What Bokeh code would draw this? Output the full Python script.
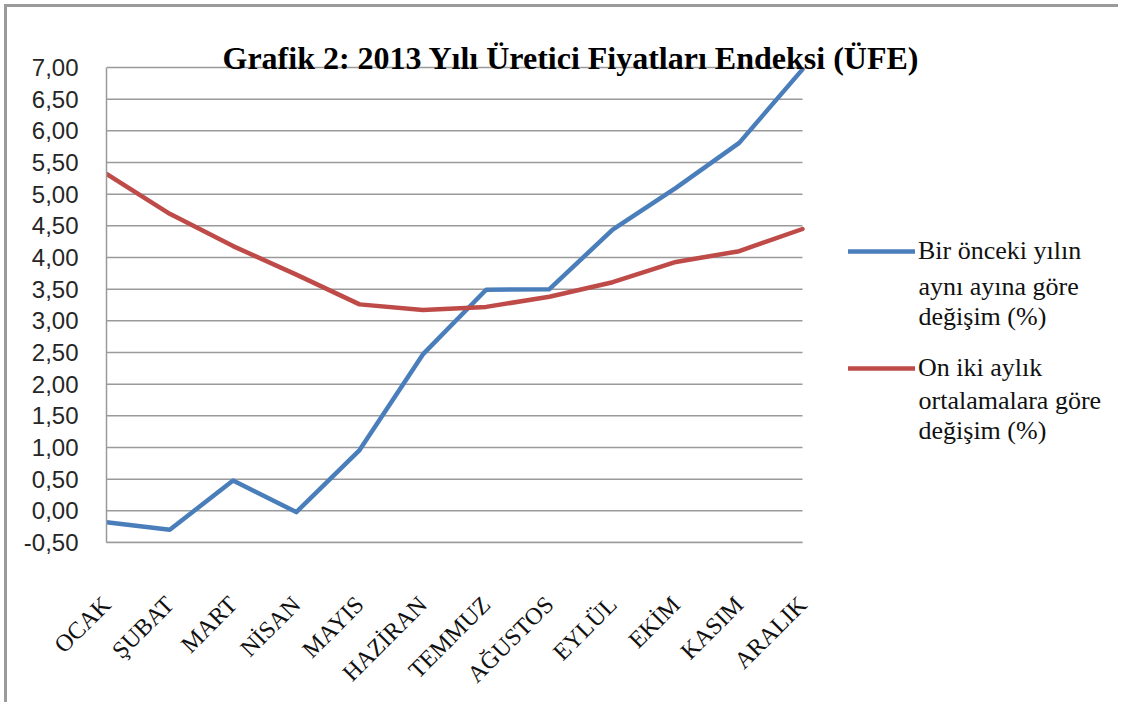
import math
from bokeh.plotting import figure
from bokeh.models import Range1d, FixedTicker, Legend, LegendItem, Label
from bokeh.embed import file_html
from bokeh.resources import INLINE

# ---- data ----
months = ["OCAK", "ŞUBAT", "MART", "NİSAN", "MAYIS", "HAZİRAN",
          "TEMMUZ", "AĞUSTOS", "EYLÜL", "EKİM", "KASIM", "ARALIK"]
annual_change = [-0.18, -0.30, 0.48, -0.02, 0.96, 2.47, 3.49, 3.50, 4.44, 5.10, 5.81, 6.97]
avg12_change = [5.32, 4.69, 4.18, 3.73, 3.26, 3.17, 3.22, 3.38, 3.61, 3.93, 4.10, 4.45]
y_ticks = [-0.5, 0.0, 0.5, 1.0, 1.5, 2.0, 2.5, 3.0, 3.5, 4.0, 4.5, 5.0, 5.5, 6.0, 6.5, 7.0]
y_tick_labels = ["-0,50", "0,00", "0,50", "1,00", "1,50", "2,00", "2,50", "3,00",
                 "3,50", "4,00", "4,50", "5,00", "5,50", "6,00", "6,50", "7,00"]
series_names = [["Bir önceki yılın", "aynı ayına göre", "değişim (%)"],
                ["On iki aylık", "ortalamalara göre", "değişim (%)"]]
title_text = "Grafik 2: 2013 Yılı Üretici  Fiyatları Endeksi (ÜFE)"

x_pos = list(range(len(months)))

# ---- layout (pixels) ----
W, H = 1114, 698
B_LEFT, B_TOP, B_RIGHT, B_BOTTOM = 99, 20, 2, 163
PLOT_TOP = 60          # canvas y of the 7,00 line
frame_w = W - B_LEFT - B_RIGHT
frame_h = H - B_TOP - B_BOTTOM
plot_w = 696           # width used by the 12 months
plot_h = H - B_BOTTOM - PLOT_TOP
x_end = (len(months) - 1) * frame_w / plot_w
y_span = y_ticks[-1] - y_ticks[0]
y_end = y_ticks[0] + y_span * frame_h / plot_h

p = figure(width=W, height=H, output_backend="svg", toolbar_location=None,
           x_range=Range1d(0, x_end), y_range=Range1d(y_ticks[0], y_end),
           min_border_left=B_LEFT, min_border_right=B_RIGHT,
           min_border_top=B_TOP, min_border_bottom=B_BOTTOM)
p.styles = {"margin-left": "4px", "margin-top": "4px",
            "border-left": "3px solid #9a9a9a", "border-top": "3px solid #9a9a9a"}
p.outline_line_color = None
p.background_fill_color = "white"
p.border_fill_color = "white"

grey = "#9a9a9a"
p.xgrid.visible = False
p.ygrid.visible = False
# horizontal gridlines limited to the months' span
p.segment(x0=[x_pos[0]] * len(y_ticks), x1=[x_pos[-1]] * len(y_ticks), y0=y_ticks, y1=y_ticks,
          line_color=grey, line_width=1.5)

p.xaxis.ticker = FixedTicker(ticks=x_pos)
p.xaxis.major_label_overrides = {i: m for i, m in zip(x_pos, months)}
p.xaxis.bounds = (x_pos[0], x_pos[-1])
p.yaxis.ticker = FixedTicker(ticks=y_ticks)
p.yaxis.major_label_overrides = {v: s for v, s in zip(y_ticks, y_tick_labels)}
p.yaxis.bounds = (y_ticks[0], y_ticks[-1])

for ax in (p.xaxis, p.yaxis):
    ax.axis_line_color = grey
    ax.axis_line_width = 1.5
    ax.major_tick_line_color = None
    ax.minor_tick_line_color = None
    ax.major_tick_out = 0
    ax.major_tick_in = 0
    ax.minor_tick_out = 0
    ax.minor_tick_in = 0

p.yaxis.major_label_text_font = "Liberation Sans"
p.yaxis.major_label_text_font_size = "24px"
p.yaxis.major_label_text_color = "#262626"
p.yaxis.major_label_standoff = 28

p.xaxis.major_label_orientation = math.pi / 4
p.xaxis.major_label_text_font = "Liberation Serif"
p.xaxis.major_label_text_font_size = "24px"
p.xaxis.major_label_text_color = "#111111"
p.xaxis.major_label_standoff = 58

colors = ["#4A7EBB", "#BE4B48"]
r1 = p.line(x_pos, annual_change, line_color=colors[0], line_width=4.5, line_join="round", line_cap="round")
r2 = p.line(x_pos, avg12_change, line_color=colors[1], line_width=4.5, line_join="round", line_cap="round")

LEG_FONT = "26px"
legend = Legend(items=[LegendItem(label=series_names[0][0], renderers=[r1]),
                       LegendItem(label=series_names[1][0], renderers=[r2])],
                location=(742, 159), glyph_width=67, glyph_height=30, label_standoff=3,
                padding=0, margin=0, spacing=87, border_line_color=None,
                background_fill_alpha=0, label_text_font="Liberation Serif",
                label_text_font_size=LEG_FONT, label_text_color="#111111")
p.add_layout(legend, "center")

# continuation lines of the legend labels
cont_y = [[256, 226], [142, 112]]
for names, ys in zip(series_names, cont_y):
    for txt, yy in zip(names[1:], ys):
        p.add_layout(Label(x=812, y=yy, x_units="screen", y_units="screen", text=txt,
                           text_align="left", text_baseline="middle",
                           text_font="Liberation Serif", text_font_size=LEG_FONT,
                           text_color="#111111"))

# chart title, sitting on the top gridline
p.add_layout(Label(x=116, y=485, x_units="screen", y_units="screen", text=title_text,
                   text_align="left", text_baseline="alphabetic",
                   text_font="Liberation Serif", text_font_style="bold",
                   text_font_size="32px", text_color="#000000"))

open("out.html", "w").write(file_html(p, INLINE))
